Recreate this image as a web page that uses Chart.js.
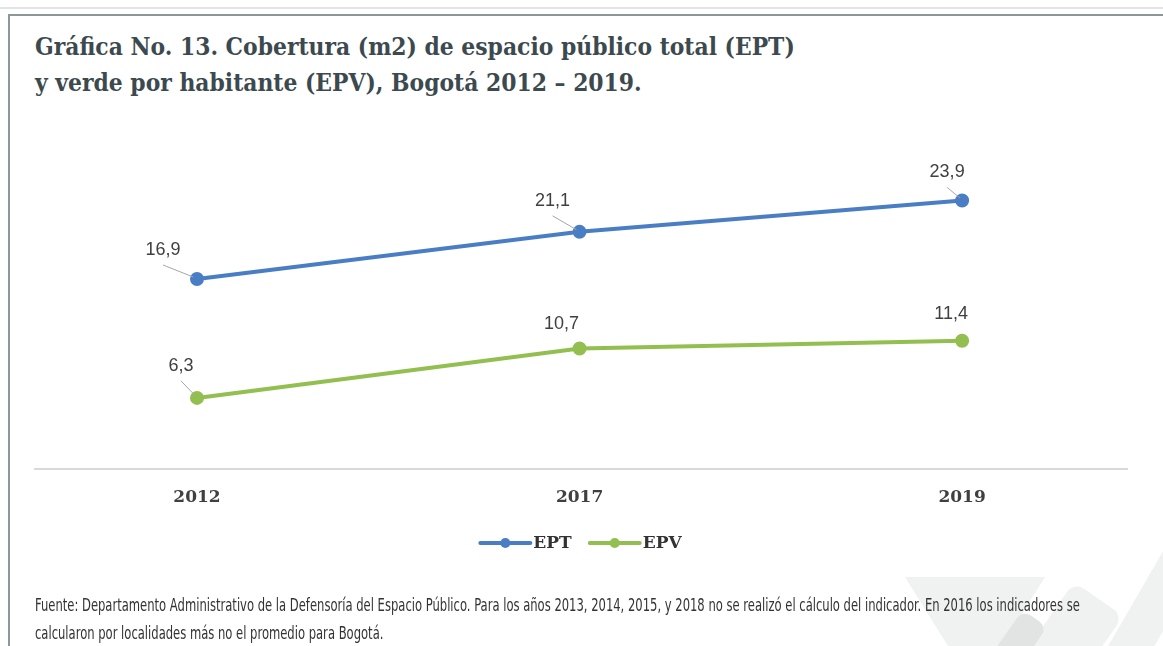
<!DOCTYPE html>
<html>
<head>
<meta charset="utf-8">
<script src="https://cdn.jsdelivr.net/npm/chart.js@4.4.1/dist/chart.umd.min.js"></script>
<style>
  html, body { margin: 0; padding: 0; background: #fff; }
  body { width: 1163px; height: 646px; position: relative; overflow: hidden; }
  .topline { position: absolute; left: 0; top: 7px; width: 1163px; height: 2px; background: #e3e3e3; }
  .frame { position: absolute; left: 8px; top: 14px; width: 1170px; height: 660px;
           border-left: 2px solid #8c9898; border-top: 2px solid #8c9898; }
  .deco { position: absolute; background: #f0f1f1; }
  .title { position: absolute; left: 35px; top: 29px; color: #3c4a4f;
           font-family: "DejaVu Serif", serif; font-weight: bold;
           font-size: 25px; line-height: 36px; white-space: nowrap; transform-origin: 0 0; }
  .note { position: absolute; left: 35px; top: 591px; color: #333;
          font-family: "Liberation Sans Narrow", "DejaVu Sans Condensed", "Roboto", sans-serif;
          font-size: 17px; line-height: 28px; white-space: nowrap; transform-origin: 0 0; }
  .note div, .title div { display: block; }
  canvas { position: absolute; left: 0; top: 0; }
</style>
</head>
<body>
<div class="topline"></div>
<div class="frame"></div>
<div class="deco" style="left:905px; top:577px; width:140px; height:90px; clip-path: polygon(0 0,100% 0,60% 100%,40% 100%);"></div>
<div class="deco" style="left:1040px; top:590px; width:60px; height:100px; transform: rotate(35deg); border-radius: 12px;"></div>
<div class="deco" style="left:1000px; top:612px; width:30px; height:70px; transform: rotate(35deg); border-radius: 10px; background:#e2e4e4;"></div>
<div class="deco" style="left:1135px; top:530px; width:40px; height:150px; transform: rotate(30deg); border-radius: 10px;"></div>
<div class="title" id="title">
  <div id="titleLine1">Gráfica No. 13. Cobertura (m2) de espacio público total (EPT)</div>
  <div>y verde por habitante (EPV), Bogotá 2012 – 2019.</div>
</div>
<canvas id="chart" width="1163" height="646"></canvas>
<div class="note" id="note">
  <div id="noteLine1">Fuente: Departamento Administrativo de la Defensoría del Espacio Público. Para los años 2013, 2014, 2015, y 2018 no se realizó el cálculo del indicador. En 2016 los indicadores se</div>
  <div>calcularon por localidades más no el promedio para Bogotá.</div>
</div>
<script>
const years = ['2012', '2017', '2019'];
const eptValues = [16.9, 21.1, 23.9];
const epvValues = [6.3, 10.7, 11.4];
const seriesNames = ['EPT', 'EPV'];

// fit title and source note to the widths seen in the picture
function fitWidth(boxId, lineId, target) {
  const w = document.getElementById(lineId).scrollWidth;
  document.getElementById(boxId).style.transform = 'scaleX(' + (target / w) + ')';
}
fitWidth('title', 'titleLine1', 760);
fitWidth('note', 'noteLine1', 1045);

const labelFont = '18px "Liberation Sans", "DejaVu Sans", sans-serif';
// label centre offset from its point [dx, dy, leader line?]
const labelPos = [
  [[-34, -29, true], [-27, -31, true], [-15, -28, true]],
  [[-16, -32, true], [-18, -25, false], [-11, -27, false]]
];

const pointLabels = {
  id: 'pointLabels',
  afterDatasetsDraw(chart) {
    const ctx = chart.ctx;
    ctx.save();
    ctx.font = labelFont;
    ctx.textAlign = 'center';
    ctx.textBaseline = 'middle';
    chart.data.datasets.forEach((ds, di) => {
      chart.getDatasetMeta(di).data.forEach((pt, i) => {
        const [dx, dy, leader] = labelPos[di][i];
        const cx = pt.x + dx, cy = pt.y + dy;
        if (leader) {
          const len = Math.hypot(dx, dy);
          ctx.strokeStyle = '#a6a6a6';
          ctx.lineWidth = 1;
          ctx.beginPath();
          ctx.moveTo(cx, cy + 15);
          ctx.lineTo(pt.x + dx / len * 5, pt.y + dy / len * 3);
          ctx.stroke();
        }
        ctx.fillStyle = '#404040';
        ctx.fillText(ds.data[i].y.toFixed(1).replace('.', ','), cx, cy);
      });
    });
    ctx.restore();
  }
};

const lineLegend = {
  id: 'lineLegend',
  afterDraw(chart) {
    const ctx = chart.ctx;
    ctx.save();
    ctx.font = 'bold 17px "DejaVu Serif", serif';
    ctx.textBaseline = 'middle';
    const lineLen = 50, gap = 3, itemGap = 18;
    const widths = chart.data.datasets.map(ds => lineLen + gap + ctx.measureText(ds.label).width);
    const total = widths.reduce((a, b) => a + b, 0) + itemGap * (widths.length - 1);
    let x = (chart.chartArea.left + chart.chartArea.right) / 2 - total / 2;
    const y = 543;
    chart.data.datasets.forEach((ds, i) => {
      ctx.strokeStyle = ds.borderColor;
      ctx.lineWidth = 4;
      ctx.lineCap = 'round';
      ctx.beginPath();
      ctx.moveTo(x, y);
      ctx.lineTo(x + lineLen, y);
      ctx.stroke();
      ctx.fillStyle = ds.borderColor;
      ctx.beginPath();
      ctx.arc(x + lineLen / 2, y, 5, 0, Math.PI * 2);
      ctx.fill();
      ctx.fillStyle = '#333';
      ctx.fillText(ds.label, x + lineLen + gap, y + 1);
      x += widths[i] + itemGap;
    });
    ctx.restore();
  }
};

new Chart(document.getElementById('chart'), {
  type: 'line',
  data: {
    datasets: [
      {
        label: seriesNames[0],
        data: eptValues.map((v, i) => ({ x: i, y: v })),
        borderColor: '#4a7ec4',
        backgroundColor: '#4a7ec4',
        borderWidth: 4,
        pointRadius: 5,
        pointHoverRadius: 5,
        tension: 0
      },
      {
        label: seriesNames[1],
        data: epvValues.map((v, i) => ({ x: i, y: v })),
        borderColor: '#92bf4f',
        backgroundColor: '#92bf4f',
        borderWidth: 4,
        pointRadius: 5,
        pointHoverRadius: 5,
        tension: 0
      }
    ]
  },
  options: {
    responsive: false,
    animation: false,
    events: [],
    layout: { padding: { left: 35, right: 36, top: 132, bottom: 119 } },
    plugins: { legend: { display: false }, tooltip: { enabled: false } },
    scales: {
      x: {
        type: 'linear',
        min: -0.4235,
        max: 2.431,
        afterBuildTicks: s => { s.ticks = years.map((_, i) => ({ value: i })); },
        grid: { display: false, drawTicks: false },
        border: { display: true, color: '#d9d9d9', width: 2 },
        ticks: {
          padding: 19,
          color: '#404040',
          font: { family: '"DejaVu Serif", serif', weight: 'bold', size: 17 },
          callback: v => years[v]
        }
      },
      y: { display: false, min: 0, max: 30 }
    }
  },
  plugins: [pointLabels, lineLegend]
});
</script>
</body>
</html>
